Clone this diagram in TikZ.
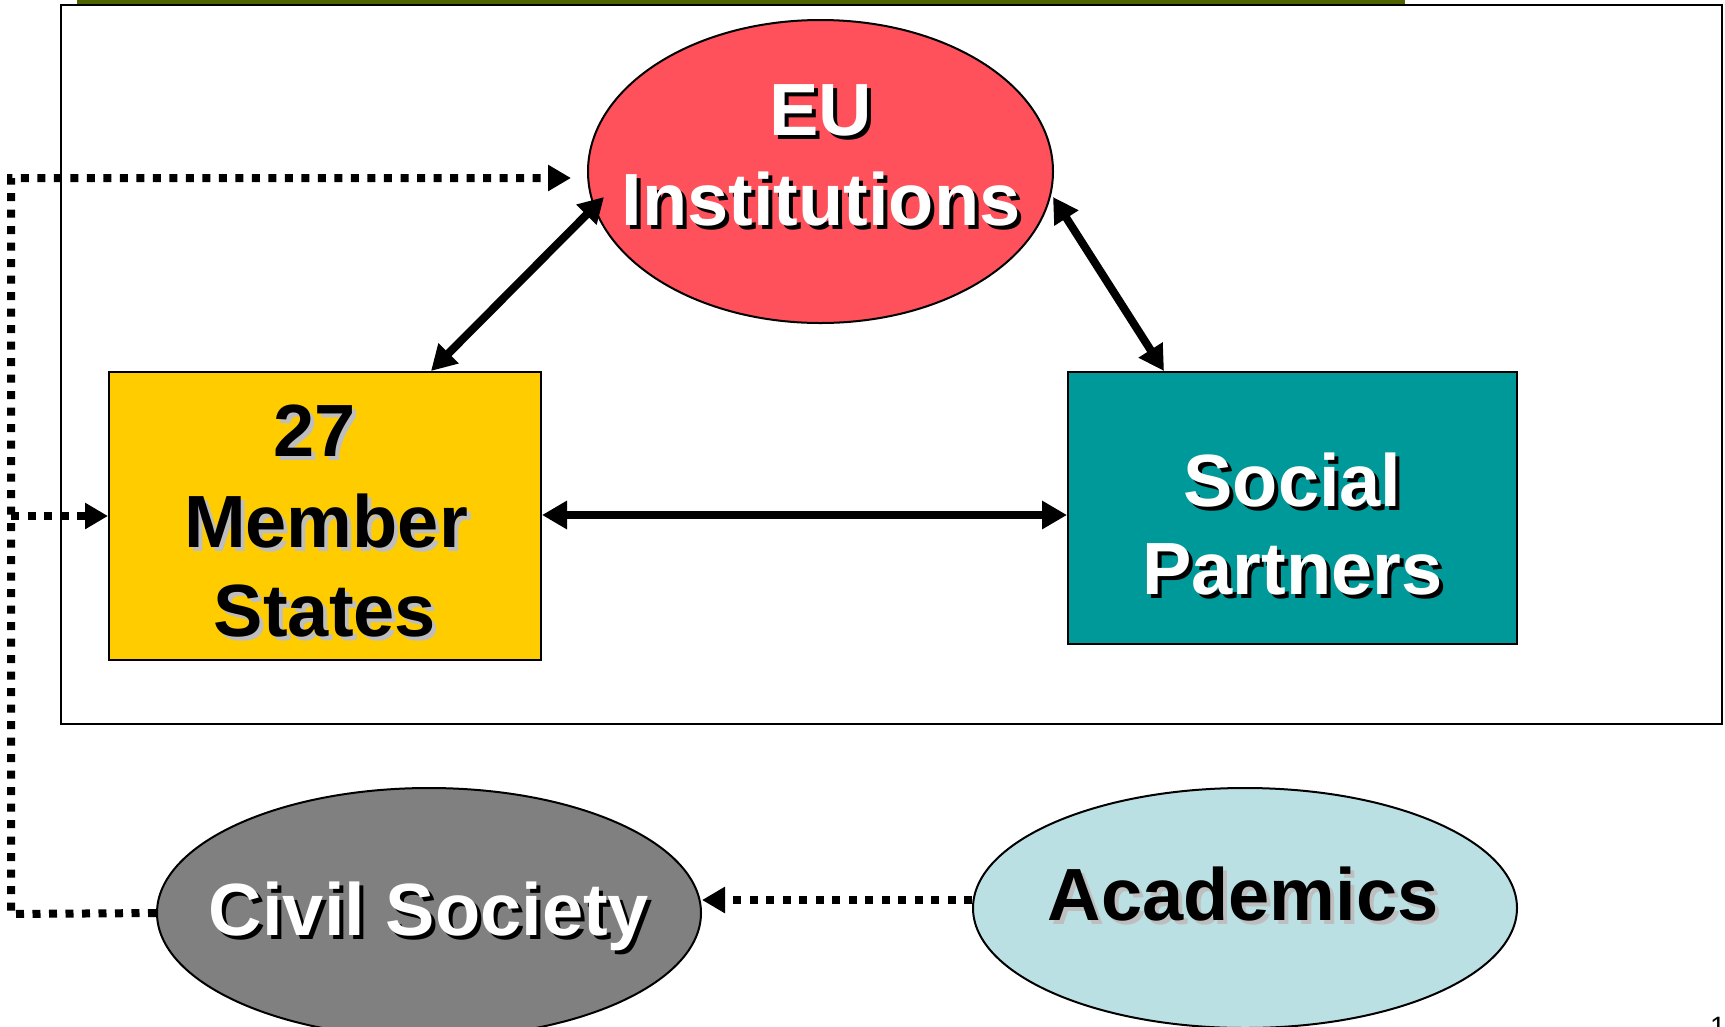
\documentclass[tikz,border=0pt]{standalone}
\usepackage{fontspec}
\setmainfont{Liberation Sans}
\usetikzlibrary{arrows.meta,shapes.geometric,calc}
\definecolor{eured}{RGB}{255,81,91}
\definecolor{msyellow}{RGB}{255,204,0}
\definecolor{spteal}{RGB}{0,153,153}
\definecolor{csgray}{RGB}{128,128,128}
\definecolor{acblue}{RGB}{187,224,227}
\definecolor{topbar}{RGB}{79,99,0}
\definecolor{lightshadow}{RGB}{190,190,190}
\newcommand\stxt[5]{%
  \node[#5shadow] (#1-s) at (#2+4,#3+4) {#4};
  \node[#5text] (#1) at (#2,#3) {#4};}
\begin{document}
\begin{tikzpicture}[x=1pt,y=-1pt,
  bigfont/.style={font=\fontsize{74}{90}\selectfont\bfseries},
  wtext/.style={bigfont,anchor=base,inner sep=0pt,text=white},
  wshadow/.style={bigfont,anchor=base,inner sep=0pt,text=black},
  ktext/.style={bigfont,anchor=base,inner sep=0pt,text=black},
  kshadow/.style={bigfont,anchor=base,inner sep=0pt,text=lightshadow},
  ell/.style={ellipse,draw=black,line width=2pt,inner sep=0pt},
  boxnode/.style={rectangle,draw=black,line width=2pt,inner sep=0pt},
  solidarr/.style={line width=8pt,{Triangle[length=25pt,width=27pt]}-{Triangle[length=25pt,width=27pt]}},
  dotline/.style={line width=8pt,dash pattern=on 8pt off 8.5pt},
  dotarr/.style={dotline,-{Triangle[length=23pt,width=25pt]}}
]
\clip (0,0) rectangle (1725,1026);
\useasboundingbox (0,0) rectangle (1725,1026);
\fill[white] (0,0) rectangle (1725,1026);
% top bar and frame
\fill[topbar] (77,0) rectangle (1405,3.5);
\draw[line width=2pt] (60.5,4.5) rectangle (1722,724);
% shapes
\node[ell,fill=eured,minimum width=465pt,minimum height=303pt] (eu) at (820.5,171.5) {};
\node[boxnode,fill=msyellow,minimum width=432pt,minimum height=288pt] (ms) at (325,516) {};
\node[boxnode,fill=spteal,minimum width=449pt,minimum height=272pt] (sp) at (1292.5,508) {};
\node[ell,fill=csgray,minimum width=544pt,minimum height=250pt] (cs) at (429,913) {};
\node[ell,fill=acblue,minimum width=544pt,minimum height=240pt] (ac) at (1245,908) {};
% texts
\stxt{eu1}{821}{135}{EU}{w}
\stxt{eu2}{821}{225}{Institutions}{w}
\stxt{ms1}{315}{456}{27}{k}
\stxt{ms2}{326}{547}{Member}{k}
\stxt{ms3}{325}{636}{States}{k}
\stxt{sp1}{1292.5}{506}{Social}{w}
\stxt{sp2}{1292.5}{594}{Partners}{w}
\stxt{cs1}{429}{935}{Civil Society}{w}
\stxt{ac1}{1243}{920}{Academics}{k}
\node[anchor=base west,inner sep=0pt,font=\fontsize{28}{30}\selectfont] (pnum) at (1710,1036) {1};
% solid arrows
\coordinate (eul) at ($(eu.center)+(-216.5,25.5)$);
\coordinate (eur) at ($(eu.center)+(232.5,25.5)$);
\coordinate (msn) at ($(ms.north)+(106,0)$);
\coordinate (spn) at ($(sp.north)+(-128.5,0)$);
\coordinate (mse) at ($(ms.east)+(0,-1)$);
\draw[solidarr] (eul) -- (msn);
\draw[solidarr] (eur) -- (spn);
\draw[solidarr] (mse) -- (mse -| sp.west);
% dotted connectors
\coordinate (cbl) at (11,914);
\coordinate (ctl) at (11,178);
\coordinate (eutip) at ($(eu.west)+(-16,6.5)$);
\draw[dotarr] (cs.west) -- (cbl) -- (ctl) -- (eutip);
\draw[dotarr] (cbl |- ms.west) -- (ms.west);
\coordinate (acp) at ($(ac.west)+(0,-8)$);
\draw[dotarr] (acp) -- (acp -| cs.east);
\end{tikzpicture}
\end{document}
